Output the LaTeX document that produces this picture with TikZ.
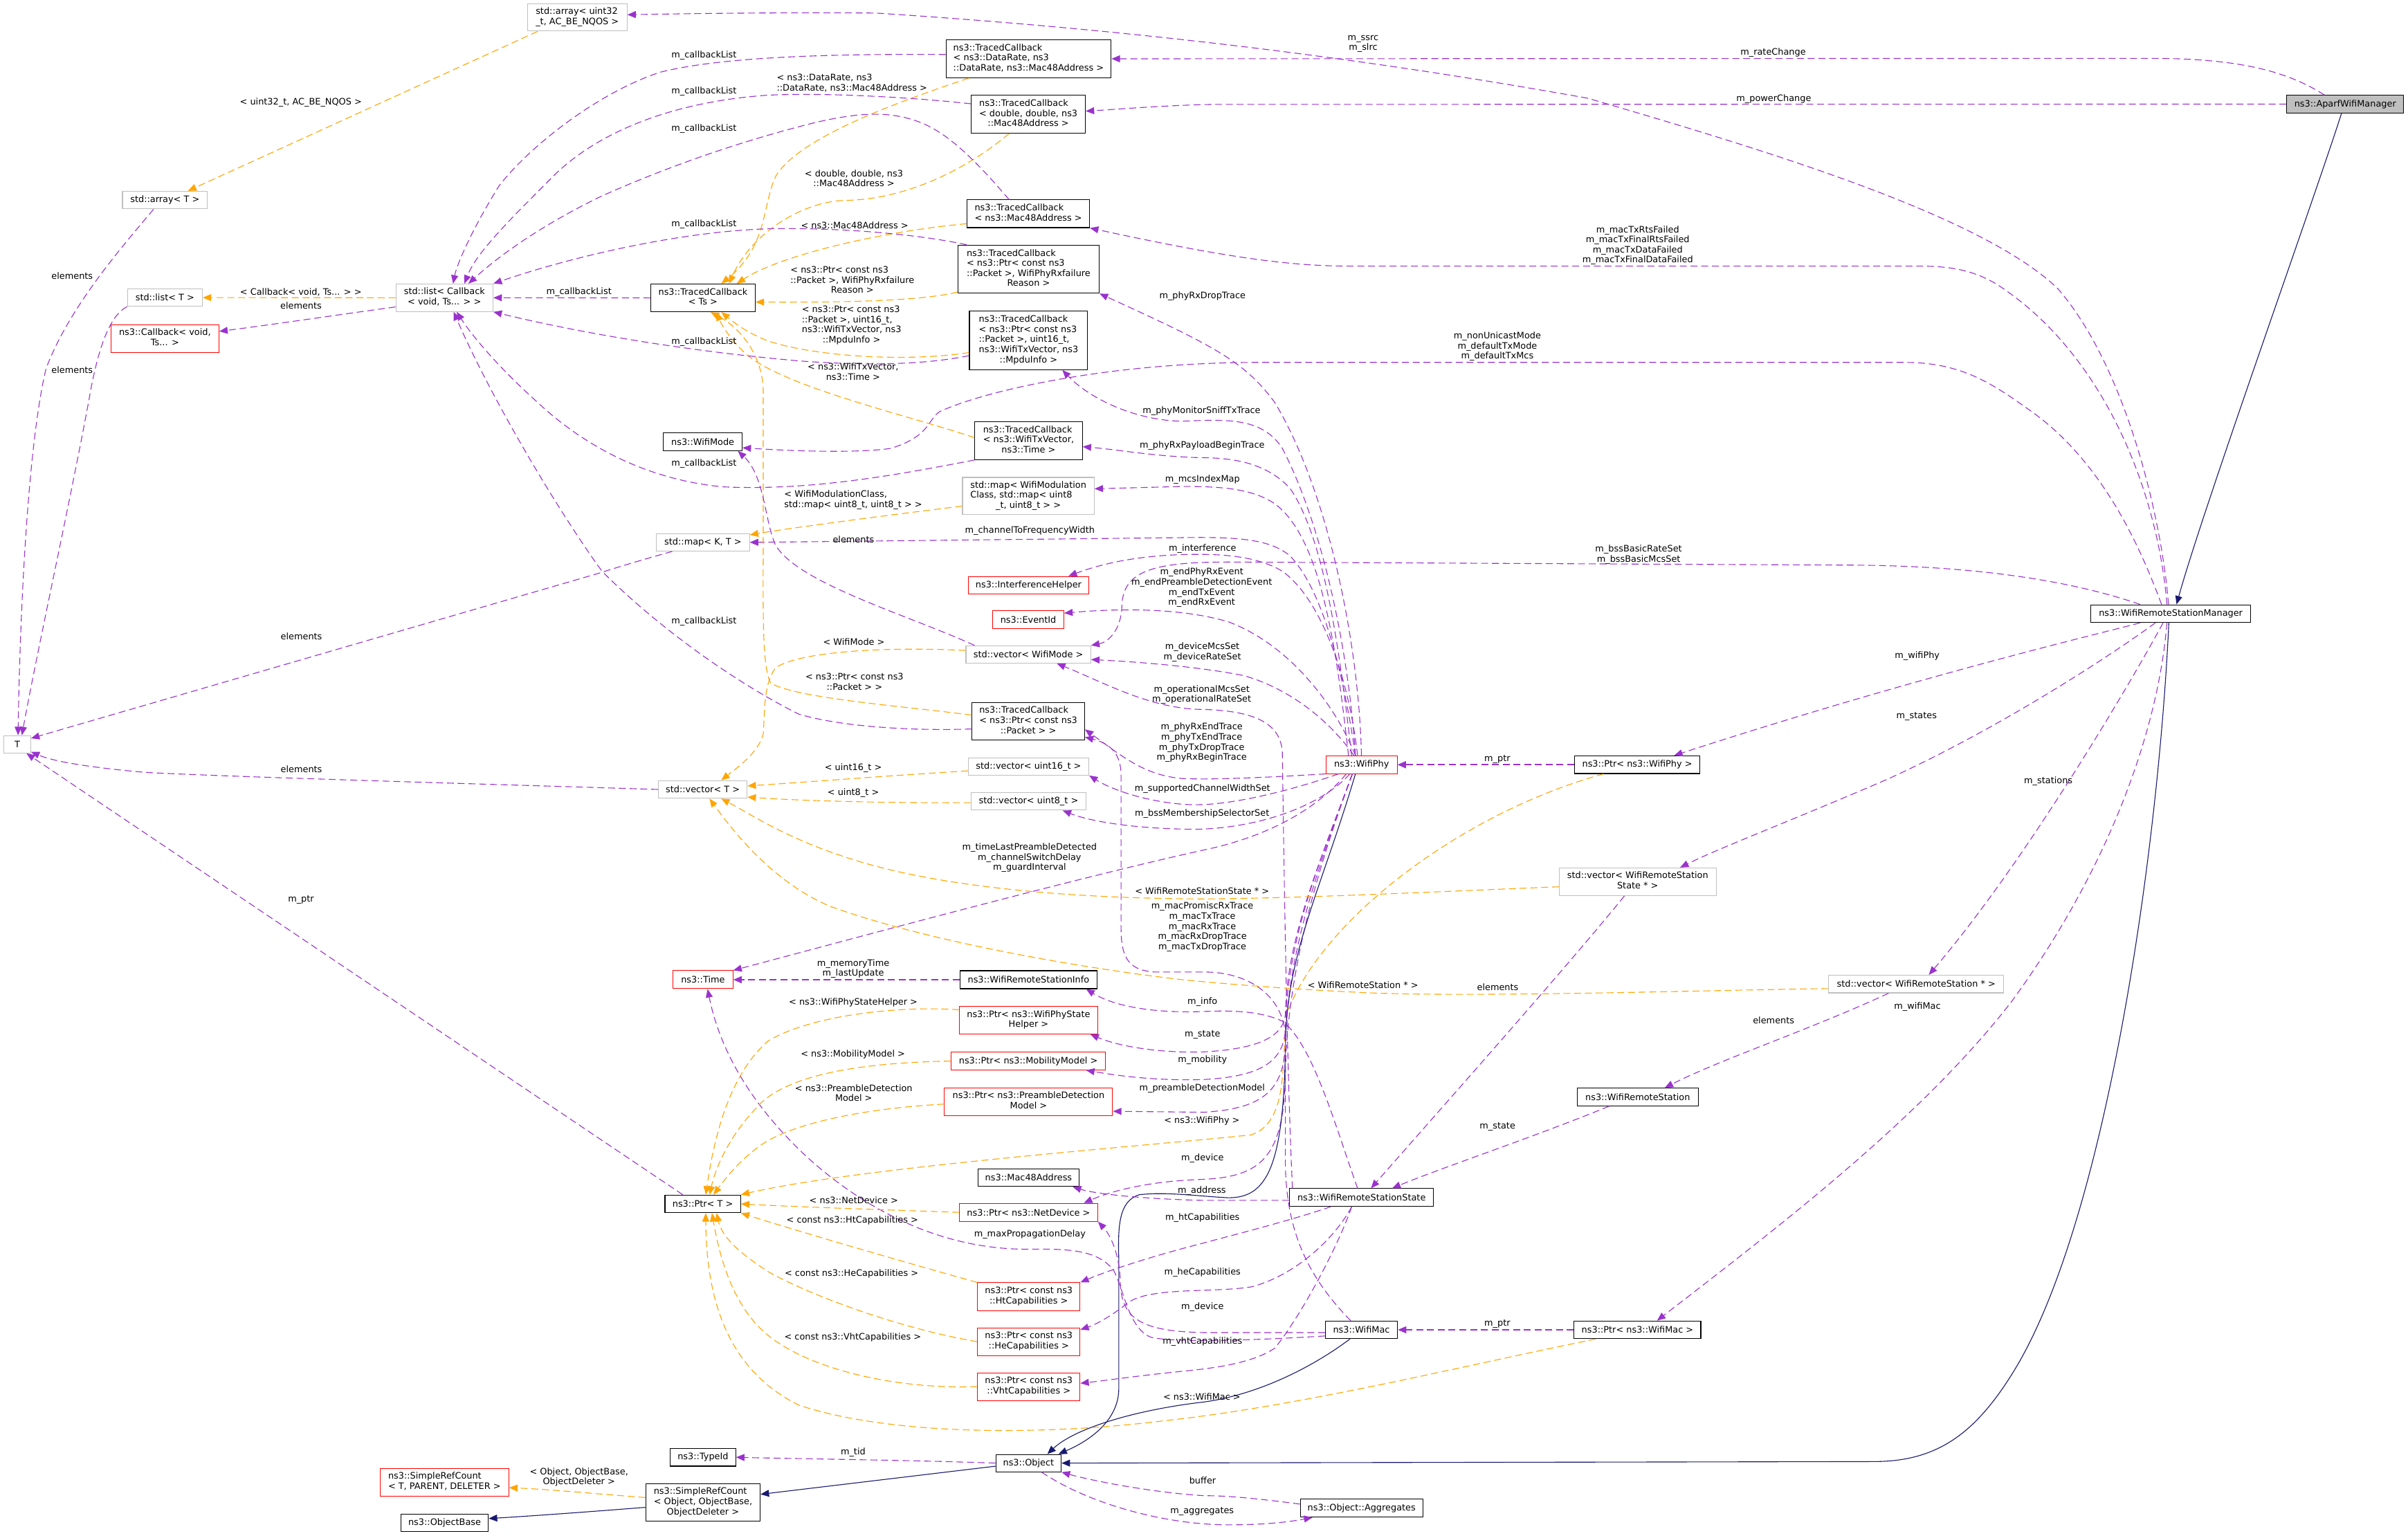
\documentclass[tikz,border=0pt]{standalone}
\usepackage{fontspec}
\setmainfont{DejaVu Sans}
\usetikzlibrary{arrows.meta}
\newcommand{\dgf}{\fontsize{5.8}{6.6}\selectfont}
\newcommand{\lcl}[2]{\begin{tabular}{@{}l@{}}#1\\\multicolumn{1}{@{}c@{}}{#2}\end{tabular}}
\definecolor{pur}{HTML}{9A32CD}
\definecolor{org}{HTML}{FFA500}
\definecolor{nav}{HTML}{191970}
\definecolor{tgray}{HTML}{BFBFBF}
\definecolor{mfill}{HTML}{BFBFBF}
\tikzset{
  nd/.style={draw=black, fill=white, line width=0.5pt, inner sep=0pt, font=\dgf, align=center},
  tn/.style={nd, draw=tgray},
  rn/.style={nd, draw=red, line width=0.45pt},
  mn/.style={nd, fill=mfill},
  lb/.style={inner sep=0pt, font=\dgf, align=center},
  tip/.style={-{Triangle[length=5.5pt,width=4.5pt]}},
  pu/.style={draw=pur, line width=0.5pt, dash pattern=on 4.5pt off 2.5pt, tip},
  or/.style={draw=org, line width=0.5pt, dash pattern=on 4.5pt off 2.5pt, tip},
  nv/.style={draw=nav, line width=0.5pt, tip},
}
\begin{document}
\begin{tikzpicture}[x=1pt,y=-1pt]
\fill[white] (0,0) rectangle (1568,1000);
\useasboundingbox (0,0) rectangle (1568,1000);

% ---------------- nodes ----------------
\node[tn,minimum width=64.75pt,minimum height=17.65pt] (arru) at (375.9,11.4) {\lcl{std::array< uint32}{\_t, AC\_BE\_NQOS >}};
\node[nd,minimum width=107.5pt,minimum height=24.7pt] (tcdr) at (669.75,38.3) {\lcl{ns3::TracedCallback\\< ns3::DataRate, ns3}{::DataRate, ns3::Mac48Address >}};
\node[nd,minimum width=74.25pt,minimum height=24.7pt] (tcdbl) at (669.6,74.4) {\lcl{ns3::TracedCallback\\< double, double, ns3}{::Mac48Address >}};
\node[nd,minimum width=79.75pt,minimum height=18.1pt] (tcmac) at (669.6,139.2) {\lcl{ns3::TracedCallback}{< ns3::Mac48Address >}};
\node[nd,minimum width=92pt,minimum height=31.3pt] (tcfail) at (669.75,175.3) {\lcl{ns3::TracedCallback\\< ns3::Ptr< const ns3\\::Packet >, WifiPhyRxfailure}{Reason >}};
\node[nd,minimum width=77pt,minimum height=38.3pt] (tcmpdu) at (669.75,221.6) {\lcl{ns3::TracedCallback\\< ns3::Ptr< const ns3\\::Packet >, uint16\_t,\\ns3::WifiTxVector, ns3}{::MpduInfo >}};
\node[nd,minimum width=68pt,minimum height=18.1pt] (tcts) at (457.75,194) {\lcl{ns3::TracedCallback}{< Ts >}};
\node[nd,minimum width=51.25pt,minimum height=11.7pt] (wmode) at (457.6,287.6) {ns3::WifiMode};
\node[nd,minimum width=70pt,minimum height=24.7pt] (tctxv) at (669.75,287) {\lcl{ns3::TracedCallback\\< ns3::WifiTxVector,}{ns3::Time >}};
\node[tn,minimum width=85.75pt,minimum height=24.2pt] (mapwm) at (669.6,323) {\lcl{std::map< WifiModulation\\Class, std::map< uint8}{\_t, uint8\_t > >}};
\node[tn,minimum width=55.3pt,minimum height=11.5pt] (arrT) at (107.4,130.3) {std::array< T >};
\node[tn,minimum width=48.75pt,minimum height=11.3pt] (listT) at (107.4,193.8) {std::list< T >};
\node[rn,minimum width=70.25pt,minimum height=18pt] (cb) at (107.4,220.4) {\lcl{ns3::Callback< void,}{Ts... >}};
\node[tn,minimum width=63.25pt,minimum height=17.9pt] (listcb) at (289.4,193.9) {\lcl{std::list< Callback}{< void, Ts... > >}};
\node[tn,minimum width=17.5pt,minimum height=11.3pt] (T) at (11.25,484.7) {T};
\node[tn,minimum width=60.5pt,minimum height=11.3pt] (mapKT) at (457.75,353.2) {std::map< K, T >};
\node[rn,minimum width=78.5pt,minimum height=11.3pt] (ih) at (669.75,381) {ns3::InterferenceHelper};
\node[rn,minimum width=46.25pt,minimum height=11.5pt] (evid) at (669.6,403.6) {ns3::EventId};
\node[tn,minimum width=81.25pt,minimum height=11.3pt] (vwm) at (669.6,426.2) {std::vector< WifiMode >};
\node[nd,minimum width=73.25pt,minimum height=24.2pt] (tcpkt) at (669.6,469.7) {\lcl{ns3::TracedCallback\\< ns3::Ptr< const ns3}{::Packet > >}};
\node[tn,minimum width=78.5pt,minimum height=11.3pt] (vu16) at (669.75,499.1) {std::vector< uint16\_t >};
\node[tn,minimum width=75pt,minimum height=11.3pt] (vu8) at (669.75,521.9) {std::vector< uint8\_t >};
\node[tn,minimum width=57.75pt,minimum height=11.5pt] (vT) at (457.6,514.1) {std::vector< T >};
\node[rn,minimum width=39pt,minimum height=11.7pt] (time) at (457.75,638) {ns3::Time};
\node[nd,minimum width=89.5pt,minimum height=11.7pt] (wrsi) at (669.75,638) {ns3::WifiRemoteStationInfo};
\node[rn,minimum width=90pt,minimum height=17.8pt] (pstate) at (669.75,664.4) {\lcl{ns3::Ptr< ns3::WifiPhyState}{Helper >}};
\node[rn,minimum width=100.75pt,minimum height=11.5pt] (pmob) at (669.6,691) {ns3::Ptr< ns3::MobilityModel >};
\node[rn,minimum width=109.5pt,minimum height=18pt] (ppre) at (669.75,717.4) {\lcl{ns3::Ptr< ns3::PreambleDetection}{Model >}};
\node[nd,minimum width=66pt,minimum height=11.5pt] (mac48) at (669.75,766.9) {ns3::Mac48Address};
\node[nd,minimum width=49.25pt,minimum height=11.5pt] (ptrT) at (457.6,784) {ns3::Ptr< T >};
\node[rn,minimum width=90pt,minimum height=11.7pt] (pnd) at (669.75,789.5) {ns3::Ptr< ns3::NetDevice >};
\node[rn,minimum width=66.75pt,minimum height=18.1pt] (pht) at (669.9,844.4) {\lcl{ns3::Ptr< const ns3}{::HtCapabilities >}};
\node[rn,minimum width=66.75pt,minimum height=18.1pt] (phe) at (669.9,873.7) {\lcl{ns3::Ptr< const ns3}{::HeCapabilities >}};
\node[rn,minimum width=66.75pt,minimum height=18.1pt] (pvht) at (669.9,903) {\lcl{ns3::Ptr< const ns3}{::VhtCapabilities >}};
\node[nd,minimum width=42.5pt,minimum height=11.5pt] (typeid) at (457.75,949) {ns3::TypeId};
\node[nd,minimum width=42.5pt,minimum height=11.3pt] (obj) at (669.75,952.8) {ns3::Object};
\node[nd,minimum width=74.5pt,minimum height=24.4pt] (src) at (457.75,978.5) {\lcl{ns3::SimpleRefCount\\< Object, ObjectBase,}{ObjectDeleter >}};
\node[rn,minimum width=83.75pt,minimum height=17.9pt] (srcT) at (289.4,965.2) {\lcl{ns3::SimpleRefCount}{< T, PARENT, DELETER >}};
\node[nd,minimum width=57pt,minimum height=11.6pt] (objbase) at (289.5,991.7) {ns3::ObjectBase};
\node[rn,minimum width=46.25pt,minimum height=11.5pt] (wphy) at (886.6,498) {ns3::WifiPhy};
\node[nd,minimum width=81.75pt,minimum height=11.5pt] (pphy) at (1066.1,498) {ns3::Ptr< ns3::WifiPhy >};
\node[tn,minimum width=102.25pt,minimum height=18pt] (vwrss) at (1066.4,574.2) {\lcl{std::vector< WifiRemoteStation}{State * >}};
\node[nd,minimum width=104pt,minimum height=11.5pt] (wrsm) at (1413.5,399.6) {ns3::WifiRemoteStationManager};
\node[tn,minimum width=114pt,minimum height=11.5pt] (vwrs) at (1247.75,640.8) {std::vector< WifiRemoteStation * >};
\node[mn,minimum width=76.25pt,minimum height=11.5pt] (aparf) at (1527.1,67.8) {ns3::AparfWifiManager};
\node[nd,minimum width=78.75pt,minimum height=11.5pt] (wrs) at (1066.4,714.4) {ns3::WifiRemoteStation};
\node[nd,minimum width=93.75pt,minimum height=11.5pt] (wrss) at (886.6,779.8) {ns3::WifiRemoteStationState};
\node[nd,minimum width=47pt,minimum height=11.5pt] (wmac) at (886.5,866) {ns3::WifiMac};
\node[nd,minimum width=82.5pt,minimum height=11.5pt] (pmac) at (1066.25,866) {ns3::Ptr< ns3::WifiMac >};
\node[nd,minimum width=79.75pt,minimum height=11.7pt] (aggr) at (886.6,982.1) {ns3::Object::Aggregates};

% ---------------- edges ----------------
% AparfWifiManager
\draw[pu] ([xshift=-13.6pt]aparf.north) .. controls (1490,47) and (1460,38) .. (1400,38) -- (tcdr.east);
\draw[pu] (aparf.west) -- (790,68) .. controls (760,68.5) and (730,71) .. ([yshift=2pt]tcdbl.east);
\draw[nv] ([xshift=-2.4pt]aparf.south) .. controls (1505,135) and (1435,330) .. ([xshift=3.75pt]wrsm.north);

% WifiRemoteStationManager
\draw[pu] ([xshift=-1.5pt]wrsm.north) .. controls (1408,340) and (1385,240) .. (1340,188) .. controls (1290,140) and (1150,98) .. (1034,64) .. controls (900,40) and (750,20) .. (570,8.5) .. controls (500,8) and (440,9) .. ([yshift=1.8pt]arru.east);
\draw[pu] ([xshift=-2.5pt]wrsm.north) .. controls (1405,320) and (1370,230) .. (1300,185) .. controls (1285,176) and (1270,173.3) .. (1250,173.3) -- (880,173.3) .. controls (840,173.3) and (800,168) .. (tcmac.south east);
\draw[pu] ([xshift=-6pt]wrsm.north) .. controls (1395,360) and (1370,300) .. (1320,266) .. controls (1295,248) and (1275,236) .. (1240,236) -- (820,236) .. controls (720,236) and (640,255) .. (612,268) .. controls (604,273) and (606,284) .. (580,292) .. controls (560,295) and (520,294) .. ([yshift=-4pt]wmode.east);
\draw[pu] ([xshift=-20pt]wrsm.south) .. controls (1370,412) and (1250,440) .. ([xshift=24pt]pphy.north);
\draw[pu] ([xshift=-10pt]wrsm.south) .. controls (1370,430) and (1300,475) .. (1230,507) .. controls (1170,533) and (1120,552) .. ([xshift=27.6pt]vwrss.north);
\draw[pu] ([xshift=-5pt]wrsm.south) .. controls (1390,440) and (1320,560) .. ([xshift=8.25pt]vwrs.north);
\draw[pu] ([xshift=-2.5pt]wrsm.south) .. controls (1405,480) and (1370,570) .. (1310,652) .. controls (1250,730) and (1150,805) .. ([xshift=12.75pt]pmac.north);
\draw[pu] ([xshift=-20pt]wrsm.north) .. controls (1360,382) and (1300,368) .. (1200,368) -- (800,366) .. controls (750,366) and (731,372) .. (730.5,395) .. controls (730,410) and (722,418) .. (vwm.north east);
\draw[nv] ([xshift=-1.25pt]wrsm.south) .. controls (1405,560) and (1370,800) .. (1310,895) .. controls (1285,935) and (1260,951.8) .. (1220,951.8) -- (obj.east);

% Ptr<WifiPhy>
\draw[pu, line width=0.8pt] (pphy.west) -- (wphy.east);
\draw[or] ([xshift=-22pt]pphy.south) .. controls (950,530) and (860,600) .. (838,660) .. controls (834,690) and (840,730) .. (815,739) .. controls (750,746) and (560,760) .. (ptrT.north east);

% WifiPhy upward
\draw[pu] ([xshift=-0.1pt]wphy.north) .. controls (885,420) and (865,320) .. (830,262) .. controls (810,235) and (790,225) .. (tcfail.south east);
\draw[pu] ([xshift=-4pt]wphy.north) .. controls (878,420) and (860,340) .. (835,292) .. controls (822,272) and (800,273) .. (770,274.3) .. controls (740,274) and (710,260) .. ([xshift=22pt]tcmpdu.south);
\draw[pu] ([xshift=-6.5pt]wphy.north) .. controls (872,420) and (862,350) .. (840,318) .. controls (825,302) and (805,298) .. (780,298) .. controls (750,297) and (730,293) .. ([yshift=-3.9pt]tctxv.east);
\draw[pu] ([xshift=-8.5pt]wphy.north) .. controls (870,420) and (860,350) .. (830,328) .. controls (815,318) and (795,316.8) .. (770,316.8) -- ([yshift=4.7pt]mapwm.east);
\draw[pu] ([xshift=-4pt]wphy.north) .. controls (875,440) and (862,385) .. (840,362) .. controls (828,352) and (810,350) .. (780,350) -- (mapKT.east);
\draw[pu] ([xshift=-2.6pt]wphy.north) .. controls (878,440) and (860,390) .. (835,372) .. controls (820,363) and (800,361) .. (780,361) .. controls (740,361) and (715,368) .. ([xshift=26pt]ih.north);
\draw[pu] ([xshift=-4pt]wphy.north) .. controls (870,460) and (840,420) .. (800,405) .. controls (770,396) and (730,396) .. ([yshift=4.3pt]evid.east);
\draw[pu] ([xshift=-5pt]wphy.north) .. controls (870,475) and (845,450) .. (810,440) .. controls (780,434) and (740,431) .. ([yshift=-3.3pt]vwm.east);

% WifiPhy left
\draw[pu] (wphy.south west) .. controls (830,506) and (790,508) .. (770,507) .. controls (745,505) and (730,492) .. ([yshift=-5.3pt]tcpkt.east);
\draw[pu] ([xshift=-15pt]wphy.south) .. controls (840,515) and (800,525) .. (775,524) .. controls (750,523) and (725,515) .. (vu16.south east);
\draw[pu] ([xshift=-7.6pt]wphy.south) .. controls (860,525) and (820,539) .. (780,540) .. controls (740,540) and (710,535) .. ([xshift=22.25pt]vu8.south);
\draw[pu] ([xshift=-10pt]wphy.south) .. controls (855,530) and (820,546) .. (784,553.5) .. controls (700,572) and (560,610) .. (time.north east);

% WifiPhy downward bundle
\draw[pu] ([xshift=-6pt]wphy.south) .. controls (860,560) and (838,610) .. (837,660) .. controls (836,675) and (820,683) .. (784,685) .. controls (750,686) and (725,680) .. ([xshift=-5pt]pstate.south east);
\draw[pu] ([xshift=-6pt]wphy.south) .. controls (860,560) and (838,610) .. (837,670) .. controls (836,692) and (820,701) .. (784,703) .. controls (750,704) and (725,700) .. ([xshift=-13pt]pmob.south east);
\draw[pu] ([xshift=-6pt]wphy.south) .. controls (860,560) and (838,620) .. (837,680) .. controls (836,712) and (820,722) .. (784,724.3) -- ([yshift=-6.3pt]ppre.east);
\draw[pu] ([xshift=-6pt]wphy.south) .. controls (860,560) and (838,630) .. (837,700) .. controls (836,755) and (820,766) .. (784,768) .. controls (750,769) and (725,775) .. ([xshift=36pt]pnd.north);
\draw[nv] ([xshift=-4pt]wphy.south) .. controls (860,580) and (838,620) .. (837,680) .. controls (836,760) and (825,780) .. (800,780) .. controls (780,779) and (760,776) .. (742,778) .. controls (728,782) and (728,800) .. (728.5,820) -- (728.5,905) .. controls (728,925) and (710,938) .. ([xshift=-2pt]obj.north east);

% WifiRemoteStationState
\draw[pu] ([xshift=-45pt]wrss.north) .. controls (838,700) and (836,560) .. (835,490) .. controls (834,470) and (815,463) .. (784,462) .. controls (750,462) and (720,445) .. ([xshift=18.6pt]vwm.south);
\draw[pu] ([yshift=-1.9pt]wrss.west) -- (784,781.7) .. controls (750,781) and (715,778) .. ([xshift=-4.5pt]mac48.south east);
\draw[pu] ([xshift=-20pt]wrss.south) .. controls (840,795) and (800,805) .. (784,809.4) .. controls (750,818) and (720,828) .. (pht.north east);
\draw[pu] ([xshift=-6.4pt]wrss.south) .. controls (870,805) and (845,830) .. (815,838) .. controls (790,842) and (750,838) .. (735,848) .. controls (725,856) and (715,862) .. ([yshift=-1.5pt]phe.north east);
\draw[pu] ([xshift=-6.4pt]wrss.south) .. controls (870,815) and (845,860) .. (830,878) .. controls (815,888) and (790,891) .. (770,893) .. controls (740,896) and (720,899) .. ([yshift=2.2pt]pvht.east);
\draw[pu] ([xshift=-2.6pt]wrss.north) .. controls (870,735) and (855,680) .. (835,665) .. controls (820,658) and (800,658) .. (784,658.7) .. controls (750,660) and (725,655) .. ([xshift=-7.5pt]wrsi.south east);

% WifiMac
\draw[pu] ([xshift=-7pt]wmac.north) .. controls (850,830) and (838,800) .. (837,760) -- (837,675) .. controls (836,650) and (815,633) .. (784,633) -- (752,633) .. controls (736,632) and (730,625) .. (730,605) -- (730,505) .. controls (730,490) and (722,484) .. ([yshift=-10.3pt]tcpkt.east);
\draw[pu] ([yshift=-1.8pt]wmac.west) -- (784,867.8) .. controls (745,867) and (730,860) .. (729.5,835) .. controls (729,815) and (722,803) .. (pnd.south east);
\draw[pu] ([yshift=-4pt]wmac.west) .. controls (830,872) and (770,875) .. (750,871) .. controls (735,866) and (732,840) .. (725,827) .. controls (715,815) and (700,813) .. (670,813.5) .. controls (610,814) and (560,785) .. (525,753) .. controls (495,725) and (470,690) .. ([xshift=3pt]time.south);
\draw[nv] ([xshift=-7.5pt]wmac.south) .. controls (855,890) and (820,908) .. (784,913) .. controls (740,918) and (700,930) .. ([xshift=12.25pt]obj.north);

% stations
\draw[pu] ([xshift=-8.65pt]vwrss.south) .. controls (1020,630) and (940,720) .. ([xshift=6.15pt]wrss.north);
\draw[pu] ([xshift=-18.65pt]wrs.south) .. controls (1000,740) and (940,760) .. ([xshift=19.9pt]wrss.north);
\draw[pu] ([xshift=-18pt]vwrs.south) .. controls (1180,670) and (1120,690) .. ([xshift=17.6pt]wrs.north);
\draw[pu, line width=0.8pt] (pmac.west) -- (wmac.east);
\draw[or] ([xshift=-27.25pt]pmac.south) .. controls (950,890) and (850,915) .. (760,925) .. controls (680,935) and (580,935) .. (520,915) .. controls (470,890) and (460,840) .. ([xshift=1.9pt]ptrT.south);

% Object
\draw[pu] (obj.west) .. controls (600,951) and (520,950) .. (typeid.east);
\draw[nv] ([yshift=-2pt]obj.west) -- ([yshift=5.4pt]src.east);
\draw[pu] ([xshift=8.5pt]obj.south) .. controls (710,980) and (760,993) .. (800,993) .. controls (830,993) and (845,990) .. ([xshift=-32pt]aggr.south);
\draw[pu] ([yshift=2.6pt]aggr.west) .. controls (820,976) and (800,974) .. (784,974) .. controls (750,972) and (710,964) .. (obj.south east);
\draw[nv] ([yshift=-3.1pt]src.west) .. controls (390,984) and (350,987) .. ([yshift=2.8pt]objbase.east);
\draw[or] ([yshift=3.3pt]src.west) .. controls (390,973) and (360,970) .. ([yshift=-3.6pt]srcT.east);
\draw[pu, line width=0.8pt] (wrsi.west) -- (time.east);

% Ptr instances -> Ptr<T>
\draw[or] ([yshift=6.8pt]pstate.west) .. controls (590,655) and (530,660) .. (500,678) .. controls (475,700) and (465,740) .. ([xshift=2pt]ptrT.north);
\draw[or] (pmob.west) .. controls (560,692) and (510,700) .. (492,722) .. controls (475,740) and (466,760) .. ([xshift=4.5pt]ptrT.north);
\draw[or] ([yshift=-1.6pt]ppre.west) .. controls (560,722) and (515,732) .. (495,746) .. controls (480,757) and (472,768) .. ([xshift=7pt]ptrT.north);
\draw[or] (pnd.west) .. controls (580,788) and (520,786) .. (ptrT.east);
\draw[or] (pht.north west) .. controls (600,825) and (530,805) .. (ptrT.south east);
\draw[or] (phe.west) .. controls (590,866) and (530,845) .. (500,828) .. controls (480,815) and (470,805) .. ([xshift=9pt]ptrT.south);
\draw[or] (pvht.west) .. controls (580,905) and (520,890) .. (495,865) .. controls (475,845) and (468,815) .. ([xshift=6pt]ptrT.south);
\draw[pu] ([xshift=-13pt]ptrT.north) -- ([xshift=-3pt]T.south east);

% TracedCallback instances -> TracedCallback<Ts>
\draw[or] ([xshift=-39pt]tcdr.south) .. controls (580,68) and (520,90) .. (505,115) .. controls (496,135) and (500,160) .. ([xshift=12pt]tcts.north);
\draw[or] ([xshift=-12.6pt]tcdbl.south) .. controls (630,110) and (590,130) .. (550,130.5) .. controls (525,131) and (490,150) .. ([xshift=17pt]tcts.north);
\draw[or] ([yshift=-6.5pt]tcmac.west) .. controls (580,150) and (510,165) .. ([xshift=22pt]tcts.north);
\draw[or] ([yshift=1pt]tcfail.south west) .. controls (600,196) and (550,197) .. ([yshift=-2.7pt]tcts.east);
\draw[or] ([yshift=-8pt]tcmpdu.west) .. controls (590,236) and (530,232) .. (500,222) .. controls (485,216) and (478,210) .. ([xshift=12pt]tcts.south);
\draw[or] ([yshift=2pt]tctxv.west) .. controls (590,270) and (510,252) .. (485,230) .. controls (475,220) and (470,212) .. ([xshift=9pt]tcts.south);
\draw[or] ([yshift=4pt]tcpkt.west) .. controls (590,460) and (520,455) .. (502,445) .. controls (496,435) and (497,400) .. (497,340) -- (497,255) .. controls (497,235) and (485,215) .. ([xshift=5pt]tcts.south);

% other templates
\draw[or] ([yshift=-6.6pt]mapwm.west) .. controls (590,334) and (520,343) .. ([yshift=4.9pt]mapKT.east);
\draw[or] ([yshift=2.6pt]vwm.west) .. controls (580,421) and (520,424) .. (505,435) .. controls (497,445) and (498,465) .. (497,478) .. controls (494,490) and (480,500) .. ([xshift=12pt]vT.north);
\draw[or] ([yshift=-2.9pt]vu16.west) .. controls (580,505) and (530,509) .. ([yshift=2.3pt]vT.east);
\draw[or] ([yshift=-0.8pt]vu8.west) .. controls (590,523) and (530,522) .. ([yshift=-5pt]vT.east);
\draw[or] ([yshift=-3.3pt]vwrss.west) .. controls (950,580) and (850,585) .. (784,585.4) .. controls (680,585) and (600,575) .. (550,558) .. controls (510,545) and (485,528) .. ([xshift=12pt]vT.south);
\draw[or] ([yshift=-3pt]vwrs.west) .. controls (1100,645) and (950,650) .. (880,646) .. controls (840,644) and (800,641) .. (770,638) .. controls (700,630) and (600,612) .. (540,590) .. controls (505,575) and (480,545) .. ([xshift=4.4pt]vT.south);
\draw[pu] ([xshift=-35pt]vwm.north) .. controls (590,400) and (520,380) .. (505,355) .. controls (498,340) and (498,310) .. ([xshift=-3pt]wmode.south east);

% containers
\draw[or] (listcb.west) -- (listT.east);
\draw[pu] ([yshift=-6pt]listcb.west) .. controls (220,205) and (180,211) .. ([yshift=4.6pt]cb.east);
\draw[or] ([xshift=-25.9pt]arru.south) -- ([xshift=15pt]arrT.north);
\draw[pu] ([xshift=-7.4pt]arrT.south) .. controls (80,160) and (45,200) .. (30,240) .. controls (18,290) and (13,400) .. ([xshift=0.5pt]T.north);
\draw[pu] (listT.south west) .. controls (72,205) and (64,225) .. (58,260) .. controls (45,330) and (25,420) .. ([xshift=3pt]T.north);
\draw[pu] ([xshift=-20pt]mapKT.south) .. controls (420,364) and (400,370) .. (391,373) -- ([yshift=-2pt]T.north east);
\draw[pu] (vT.west) .. controls (330,511) and (150,506) .. (95,503) .. controls (60,500) and (35,496) .. ([yshift=1pt]T.south east);

% m_callbackList
\draw[pu] ([yshift=2.8pt]tcdr.west) .. controls (540,35) and (470,37) .. (430,47) .. controls (390,60) and (345,95) .. (325,121) .. controls (310,145) and (298,170) .. ([xshift=5.6pt]listcb.north);
\draw[pu] ([yshift=6.8pt]tcdbl.west) .. controls (600,64) and (540,60) .. (500,62) .. controls (440,66) and (390,85) .. (360,115) .. controls (330,145) and (310,165) .. ([xshift=13pt]listcb.north);
\draw[pu] ([xshift=-12.6pt]tcmac.north) .. controls (640,110) and (620,88) .. (600,80) .. controls (580,72) and (560,73) .. (530,80) .. controls (470,95) and (420,115) .. (392,127.6) .. controls (360,143) and (330,162) .. ([xshift=15.6pt]listcb.north);
\draw[pu] ([xshift=6pt]tcfail.north west) .. controls (600,153) and (550,148) .. (500,149) .. controls (440,151) and (370,168) .. (listcb.north east);
\draw[pu] (tcts.west) -- (listcb.east);
\draw[pu] ([yshift=-10pt]tcmpdu.west) .. controls (600,238) and (560,238) .. (520,235) .. controls (440,228) and (370,215) .. (listcb.south east);
\draw[pu] (tctxv.south west) .. controls (590,308) and (530,320) .. (470,317) .. controls (420,312) and (380,290) .. (350,262) .. controls (320,235) and (305,215) .. ([xshift=8pt]listcb.south);
\draw[pu] ([yshift=-5pt]tcpkt.west) .. controls (600,476) and (550,474) .. (520,465) .. controls (480,445) and (430,410) .. (392,372) .. controls (365,335) and (320,260) .. ([xshift=6pt]listcb.south);

% ---------------- labels ----------------
\node[lb] (la1) at (195.9,66.8) {< uint32\_t, AC\_BE\_NQOS >};
\node[lb] (la2) at (47,179.7) {elements};
\node[lb] (la3) at (195.9,190.3) {< Callback< void, Ts... > >};
\node[lb] (la4) at (196,199.2) {elements};
\node[lb] (la5) at (47,241.1) {elements};
\node[lb] (la6) at (196.25,414.6) {elements};
\node[lb] (la7) at (196.25,500.7) {elements};
\node[lb] (la8) at (196,586) {m\_ptr};
\node[lb] (la9) at (377,962.3) {\lcl{< Object, ObjectBase,}{ObjectDeleter >}};
\node[lb] (lb1) at (377,190.3) {m\_callbackList};
\node[lb] (lb2) at (458.4,36.1) {m\_callbackList};
\node[lb] (lb3) at (458.4,59.5) {m\_callbackList};
\node[lb] (lb4) at (458.4,84) {m\_callbackList};
\node[lb] (lb5) at (458.4,146.1) {m\_callbackList};
\node[lb] (lb6) at (458.4,222.6) {m\_callbackList};
\node[lb] (lb7) at (458.4,302) {m\_callbackList};
\node[lb] (lb8) at (458.4,404.6) {m\_callbackList};
\node[lb] (lc1) at (554.75,54.7) {\lcl{< ns3::DataRate, ns3}{::DataRate, ns3::Mac48Address >}};
\node[lb] (lc2) at (556,117) {\lcl{< double, double, ns3}{::Mac48Address >}};
\node[lb] (lc3) at (556.5,146.9) {< ns3::Mac48Address >};
\node[lb] (lc4) at (555,183) {\lcl{< ns3::Ptr< const ns3\\::Packet >, WifiPhyRxfailure}{Reason >}};
\node[lb] (lc5) at (554.5,212) {\lcl{< ns3::Ptr< const ns3\\::Packet >, uint16\_t,\\ns3::WifiTxVector, ns3}{::MpduInfo >}};
\node[lb] (lc6) at (555.5,242.9) {\lcl{< ns3::WifiTxVector,}{ns3::Time >}};
\node[lb] (lc7) at (555.6,325.7) {\lcl{< WifiModulationClass,}{std::map< uint8\_t, uint8\_t > >}};
\node[lb] (lc8) at (555.75,351.3) {elements};
\node[lb] (lc9) at (556,418.2) {< WifiMode >};
\node[lb] (lc10) at (556.4,444.7) {\lcl{< ns3::Ptr< const ns3}{::Packet > >}};
\node[lb] (lc11) at (555.6,500.3) {< uint16\_t >};
\node[lb] (lc12) at (555.6,516.5) {< uint8\_t >};
\node[lb] (lc13) at (555.6,630.9) {m\_memoryTime\\m\_lastUpdate};
\node[lb] (lc14) at (555.6,652.8) {< ns3::WifiPhyStateHelper >};
\node[lb] (lc15) at (555.4,686.5) {< ns3::MobilityModel >};
\node[lb] (lc16) at (555.9,712.6) {\lcl{< ns3::PreambleDetection}{Model >}};
\node[lb] (lc17) at (555.9,781.7) {< ns3::NetDevice >};
\node[lb] (lc18) at (555,794.7) {< const ns3::HtCapabilities >};
\node[lb] (lc19) at (554.5,829.3) {< const ns3::HeCapabilities >};
\node[lb] (lc20) at (555.25,871) {< const ns3::VhtCapabilities >};
\node[lb] (lc21) at (555.5,945.9) {m\_tid};
\node[lb] (ld1) at (670.6,345.7) {m\_channelToFrequencyWidth};
\node[lb] (ld2) at (670.4,558.6) {m\_timeLastPreambleDetected\\m\_channelSwitchDelay\\m\_guardInterval};
\node[lb] (ld3) at (670.6,804) {m\_maxPropagationDelay};
\node[lb] (le1) at (783,193) {m\_phyRxDropTrace};
\node[lb] (le2) at (782.4,267.9) {m\_phyMonitorSniffTxTrace};
\node[lb] (le3) at (782.75,290.4) {m\_phyRxPayloadBeginTrace};
\node[lb] (le4) at (783,312.3) {m\_mcsIndexMap};
\node[lb] (le5) at (783,357.2) {m\_interference};
\node[lb] (le6) at (782.5,382.8) {m\_endPhyRxEvent\\m\_endPreambleDetectionEvent\\m\_endTxEvent\\m\_endRxEvent};
\node[lb] (le7) at (782.9,424.8) {m\_deviceMcsSet\\m\_deviceRateSet};
\node[lb] (le8) at (782.5,452.5) {m\_operationalMcsSet\\m\_operationalRateSet};
\node[lb] (le9) at (782.5,483.7) {m\_phyRxEndTrace\\m\_phyTxEndTrace\\m\_phyTxDropTrace\\m\_phyRxBeginTrace};
\node[lb] (le10) at (783,513.7) {m\_supportedChannelWidthSet};
\node[lb] (le11) at (782.75,530.1) {m\_bssMembershipSelectorSet};
\node[lb] (le12) at (782.75,580.4) {< WifiRemoteStationState * >};
\node[lb] (le13) at (782.9,603.6) {m\_macPromiscRxTrace\\m\_macTxTrace\\m\_macRxTrace\\m\_macRxDropTrace\\m\_macTxDropTrace};
\node[lb] (le14) at (783,652.3) {m\_info};
\node[lb] (le15) at (783,673.9) {m\_state};
\node[lb] (le16) at (783,690.3) {m\_mobility};
\node[lb] (le17) at (782.75,708.8) {m\_preambleDetectionModel};
\node[lb] (le18) at (782.6,729.8) {< ns3::WifiPhy >};
\node[lb] (le19) at (783,754.5) {m\_device};
\node[lb] (le20) at (782.6,775.3) {m\_address};
\node[lb] (le21) at (783,793.2) {m\_htCapabilities};
\node[lb] (le22) at (783,828.7) {m\_heCapabilities};
\node[lb] (le23) at (783,851.3) {m\_device};
\node[lb] (le24) at (783,873.6) {m\_vhtCapabilities};
\node[lb] (le25) at (782.6,909.7) {< ns3::WifiMac >};
\node[lb] (le26) at (783.1,963.9) {buffer};
\node[lb] (le27) at (782.75,984.4) {m\_aggregates};
\node[lb] (lf1) at (887.6,28.5) {m\_ssrc\\m\_slrc};
\node[lb] (lf2) at (887.5,641.3) {< WifiRemoteStation * >};
\node[lb] (lg1) at (975,225.7) {m\_nonUnicastMode\\m\_defaultTxMode\\m\_defaultTxMcs};
\node[lb] (lg2) at (975,494.4) {m\_ptr};
\node[lb] (lg3) at (975.25,642.8) {elements};
\node[lb] (lg4) at (975.1,733.7) {m\_state};
\node[lb] (lg5) at (975,862.1) {m\_ptr};
\node[lb] (lh1) at (1066.4,159.8) {m\_macTxRtsFailed\\m\_macTxFinalRtsFailed\\m\_macTxDataFailed\\m\_macTxFinalDataFailed};
\node[lb] (lh2) at (1067,361.3) {m\_bssBasicRateSet\\m\_bssBasicMcsSet};
\node[lb] (li1) at (1154.6,34.2) {m\_rateChange};
\node[lb] (li2) at (1155,64.4) {m\_powerChange};
\node[lb] (li3) at (1154.9,664.5) {elements};
\node[lb] (lj1) at (1248.4,427) {m\_wifiPhy};
\node[lb] (lj2) at (1248,466.7) {m\_states};
\node[lb] (lj3) at (1248.5,655.5) {m\_wifiMac};
\node[lb] (lj4) at (1333.75,508.6) {m\_stations};
\end{tikzpicture}
\end{document}
